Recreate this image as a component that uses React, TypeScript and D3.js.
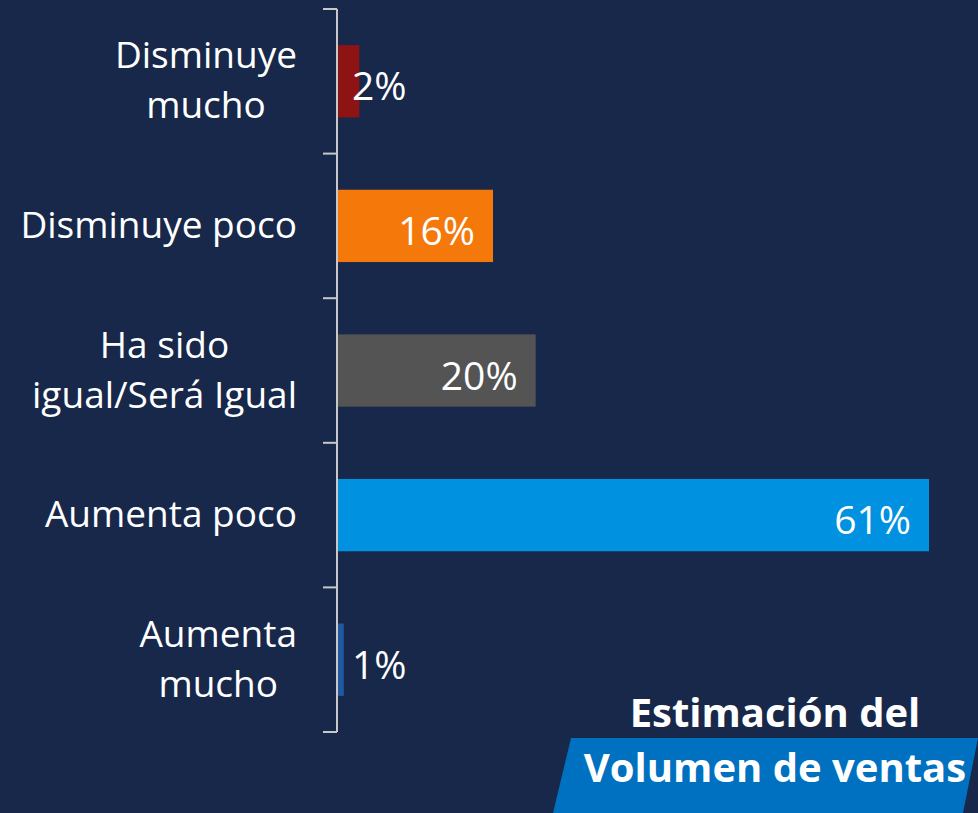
import React, { useEffect, useRef } from "react";
import * as d3 from "d3";

// categories, top to bottom
const categories = [
  ["Disminuye", "mucho"],
  ["Disminuye poco"],
  ["Ha sido", "igual/Será Igual"],
  ["Aumenta poco"],
  ["Aumenta", "mucho"],
];
const values = [2.2, 16, 20.4, 61, 0.6];
const barColors = ["#8e1414", "#f5780a", "#545454", "#0091e1", "#1f5aa0"];
const titleLines = ["Estimación del", "Volumen de ventas"];

const W = 978, H = 813;
const BG = "#17284a";

function App() {
  const svgRef = useRef<SVGSVGElement>(null);

  useEffect(() => {
    document.body.style.margin = "0";
    const svg = d3.select(svgRef.current);
    svg.selectAll("*").remove();

    svg.append("rect").attr("width", W).attr("height", H).attr("fill", BG);

    const x0 = 338;
    const x = d3.scaleLinear().domain([0, 61]).range([x0, 929]);
    const y = d3.scaleBand<number>()
      .domain(d3.range(values.length))
      .range([9, 732])
      .paddingInner(0.5)
      .paddingOuter(0.25);

    // bars
    svg.append("g").selectAll("rect")
      .data(values)
      .join("rect")
      .attr("x", x0)
      .attr("y", (_, i) => y(i)!)
      .attr("width", d => x(d) - x0)
      .attr("height", y.bandwidth())
      .attr("fill", (_, i) => barColors[i]);

    // axis line + ticks at band edges
    const axisG = svg.append("g");
    axisG.append("line")
      .attr("x1", 337).attr("x2", 337).attr("y1", 9).attr("y2", 732)
      .attr("stroke", "#c8c8c8").attr("stroke-width", 2);
    const tickYs = d3.range(values.length + 1).map(i => 9 + i * (723 / values.length));
    axisG.selectAll("line.tick")
      .data(tickYs)
      .join("line")
      .attr("class", "tick")
      .attr("x1", 323).attr("x2", 337)
      .attr("y1", d => d).attr("y2", d => d)
      .attr("stroke", "#c8c8c8").attr("stroke-width", 2);

    // category labels
    const font = "'Open Sans', 'Noto Sans', sans-serif";
    categories.forEach((lines, i) => {
      const cy = y(i)! + y.bandwidth() / 2;
      const g = svg.append("g");
      const texts = g.selectAll("text")
        .data(lines)
        .join("text")
        .attr("font-family", font)
        .attr("font-size", 37)
        .attr("fill", "#ffffff")
        .attr("text-anchor", "middle")
        .attr("y", (_, j) => cy + 12 + (j - (lines.length - 1) / 2) * 50)
        .text(d => d);
      let maxW = 0;
      texts.each(function () {
        maxW = Math.max(maxW, (this as SVGTextElement).getComputedTextLength());
      });
      texts.attr("x", 297 - maxW / 2);
    });

    // value labels
    const fmt = d3.format(".0f");
    svg.append("g").selectAll("text")
      .data(values)
      .join("text")
      .attr("font-family", font)
      .attr("font-size", 39)
      .attr("fill", "#ffffff")
      .attr("text-anchor", "end")
      .attr("y", (_, i) => y(i)! + y.bandwidth() / 2 + 19)
      .text(d => fmt(d) + "%")
      .each(function (d) {
        const el = this as SVGTextElement;
        const tw = el.getComputedTextLength();
        el.setAttribute("x", String(Math.max(x(d) - 18, 352 + tw)));
      });

    // title box
    svg.append("path")
      .attr("d", "M571,738 L978,738 L963,813 L553,813 Z")
      .attr("fill", "#0070c0");
    svg.append("g").selectAll("text")
      .data(titleLines)
      .join("text")
      .attr("font-family", font)
      .attr("font-weight", 700)
      .attr("font-size", 40)
      .attr("fill", "#ffffff")
      .attr("text-anchor", "middle")
      .attr("x", 775)
      .attr("y", (_, i) => 727 + i * 55)
      .text(d => d);
  }, []);

  return <svg ref={svgRef} width={W} height={H} style={{ display: "block" }}></svg>;
}

export default App;
